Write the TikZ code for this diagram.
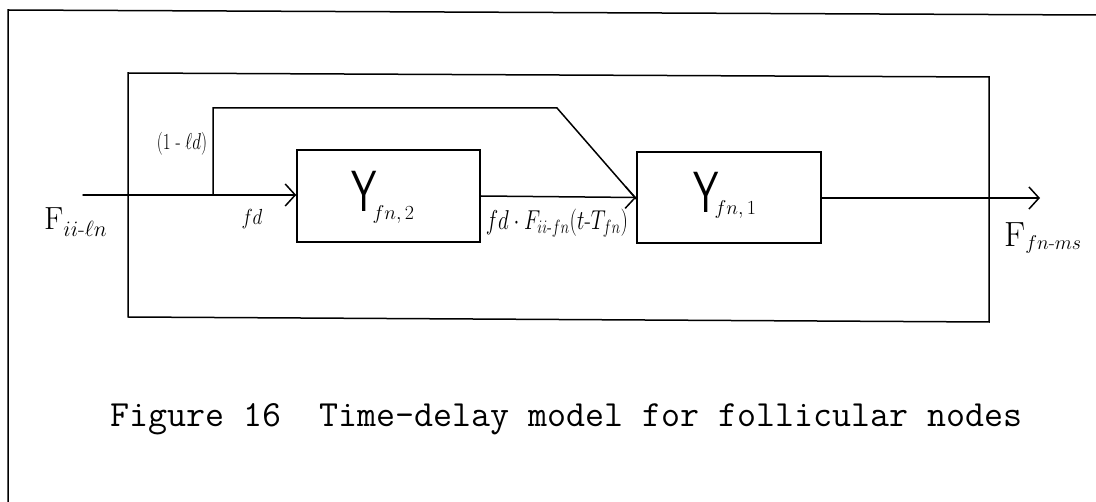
\RequirePackage{fix-cm}
\documentclass[tikz,border=0pt]{standalone}
\usepackage{graphicx}
\usepackage{amsmath}
\usetikzlibrary{arrows.meta}
\tikzset{
  ln/.style={line width=1.5pt, line cap=round, line join=miter},
  arr/.style={ln, -{Straight Barb[length=10pt,width=22pt,line width=1.5pt]}},
  blk/.style={draw, line width=1.5pt, inner sep=0pt},
  lbl/.style={inner sep=0pt},
}
\newcommand{\bigY}{\scalebox{0.7}[1]{\fontsize{58}{58}\selectfont\sffamily Y}}
\newcommand{\subtxt}[2]{\raisebox{#1}{\fontsize{20}{20}\selectfont$#2$}}
\begin{document}
\begin{tikzpicture}[x=1pt,y=-1pt]
\useasboundingbox (0,0) rectangle (1096,502);
% outer page frame
\coordinate (fbl) at (8,502);
\coordinate (ftl) at (8,10);
\coordinate (ftr) at (1096,15);
\draw[ln] (fbl) -- (ftl) -- (ftr);
% inner enclosing rectangle
\coordinate (itl) at (128,73);
\coordinate (itr) at (989,77);
\coordinate (ibr) at (989,322);
\coordinate (ibl) at (128,317);
\draw[ln] (itl) -- (itr) -- (ibr) -- (ibl) -- cycle;
% blocks
\node[blk, minimum width=183pt, minimum height=92pt] (Y2) at (388.5,196) {};
\node[blk, minimum width=184pt, minimum height=91pt] (Y1) at (729,197.5) {};
\node[lbl, anchor=base west] (Y2l) at (351,212) {\bigY\kern-4pt\subtxt{-8pt}{fn,2}};
\node[lbl, anchor=base west] (Y1l) at (693,213) {\bigY\kern-4pt\subtxt{-2pt}{fn,1}};
% connectors
\coordinate (in) at (83,195);
\coordinate (split) at (213,195);
\coordinate (bup) at (213,108);
\coordinate (bend) at (557,108);
\coordinate (out) at (1040,198);
\draw[ln] (in) -- (split);
\draw[arr] (split) -- (Y2.west |- split);
\draw[ln] (split) -- (bup) -- (bend) -- ([yshift=-1.5pt]Y1.west);
\draw[arr] (Y2.east |- 0,196) -- (Y1.west);
\draw[arr] (Y1.east |- out) -- (out);
% labels
\node[lbl] (l1) at (182,144) {\scalebox{1}[1.35]{\fontsize{17}{17}\selectfont$(1\;\text{-}\;\ell d)$}};
\node[lbl] (l2) at (252,219) {\scalebox{1}[1.15]{\fontsize{19}{19}\selectfont$fd$}};
\node[lbl, anchor=base west] (l3) at (44,230) {\fontsize{32}{32}\selectfont F\raisebox{-7pt}{\fontsize{22}{22}\selectfont$ii\text{-}\ell n$}};
\node[lbl] (l4) at (557,223) {\scalebox{1}[1.3]{\fontsize{21}{21}\selectfont$fd\cdot F_{ii\text{-}fn}(t\text{-}T_{fn})$}};
\node[lbl, anchor=base west] (l5) at (1004,247) {\fontsize{35}{35}\selectfont F\raisebox{-3pt}{\fontsize{20}{20}\selectfont$fn\text{-}ms$}};
% caption
\node[anchor=base, inner sep=0pt] (cap) at (566.5,427) {\fontsize{36.9}{38}\selectfont\ttfamily Figure 16\ \ Time-delay model for follicular nodes};
\end{tikzpicture}
\end{document}
